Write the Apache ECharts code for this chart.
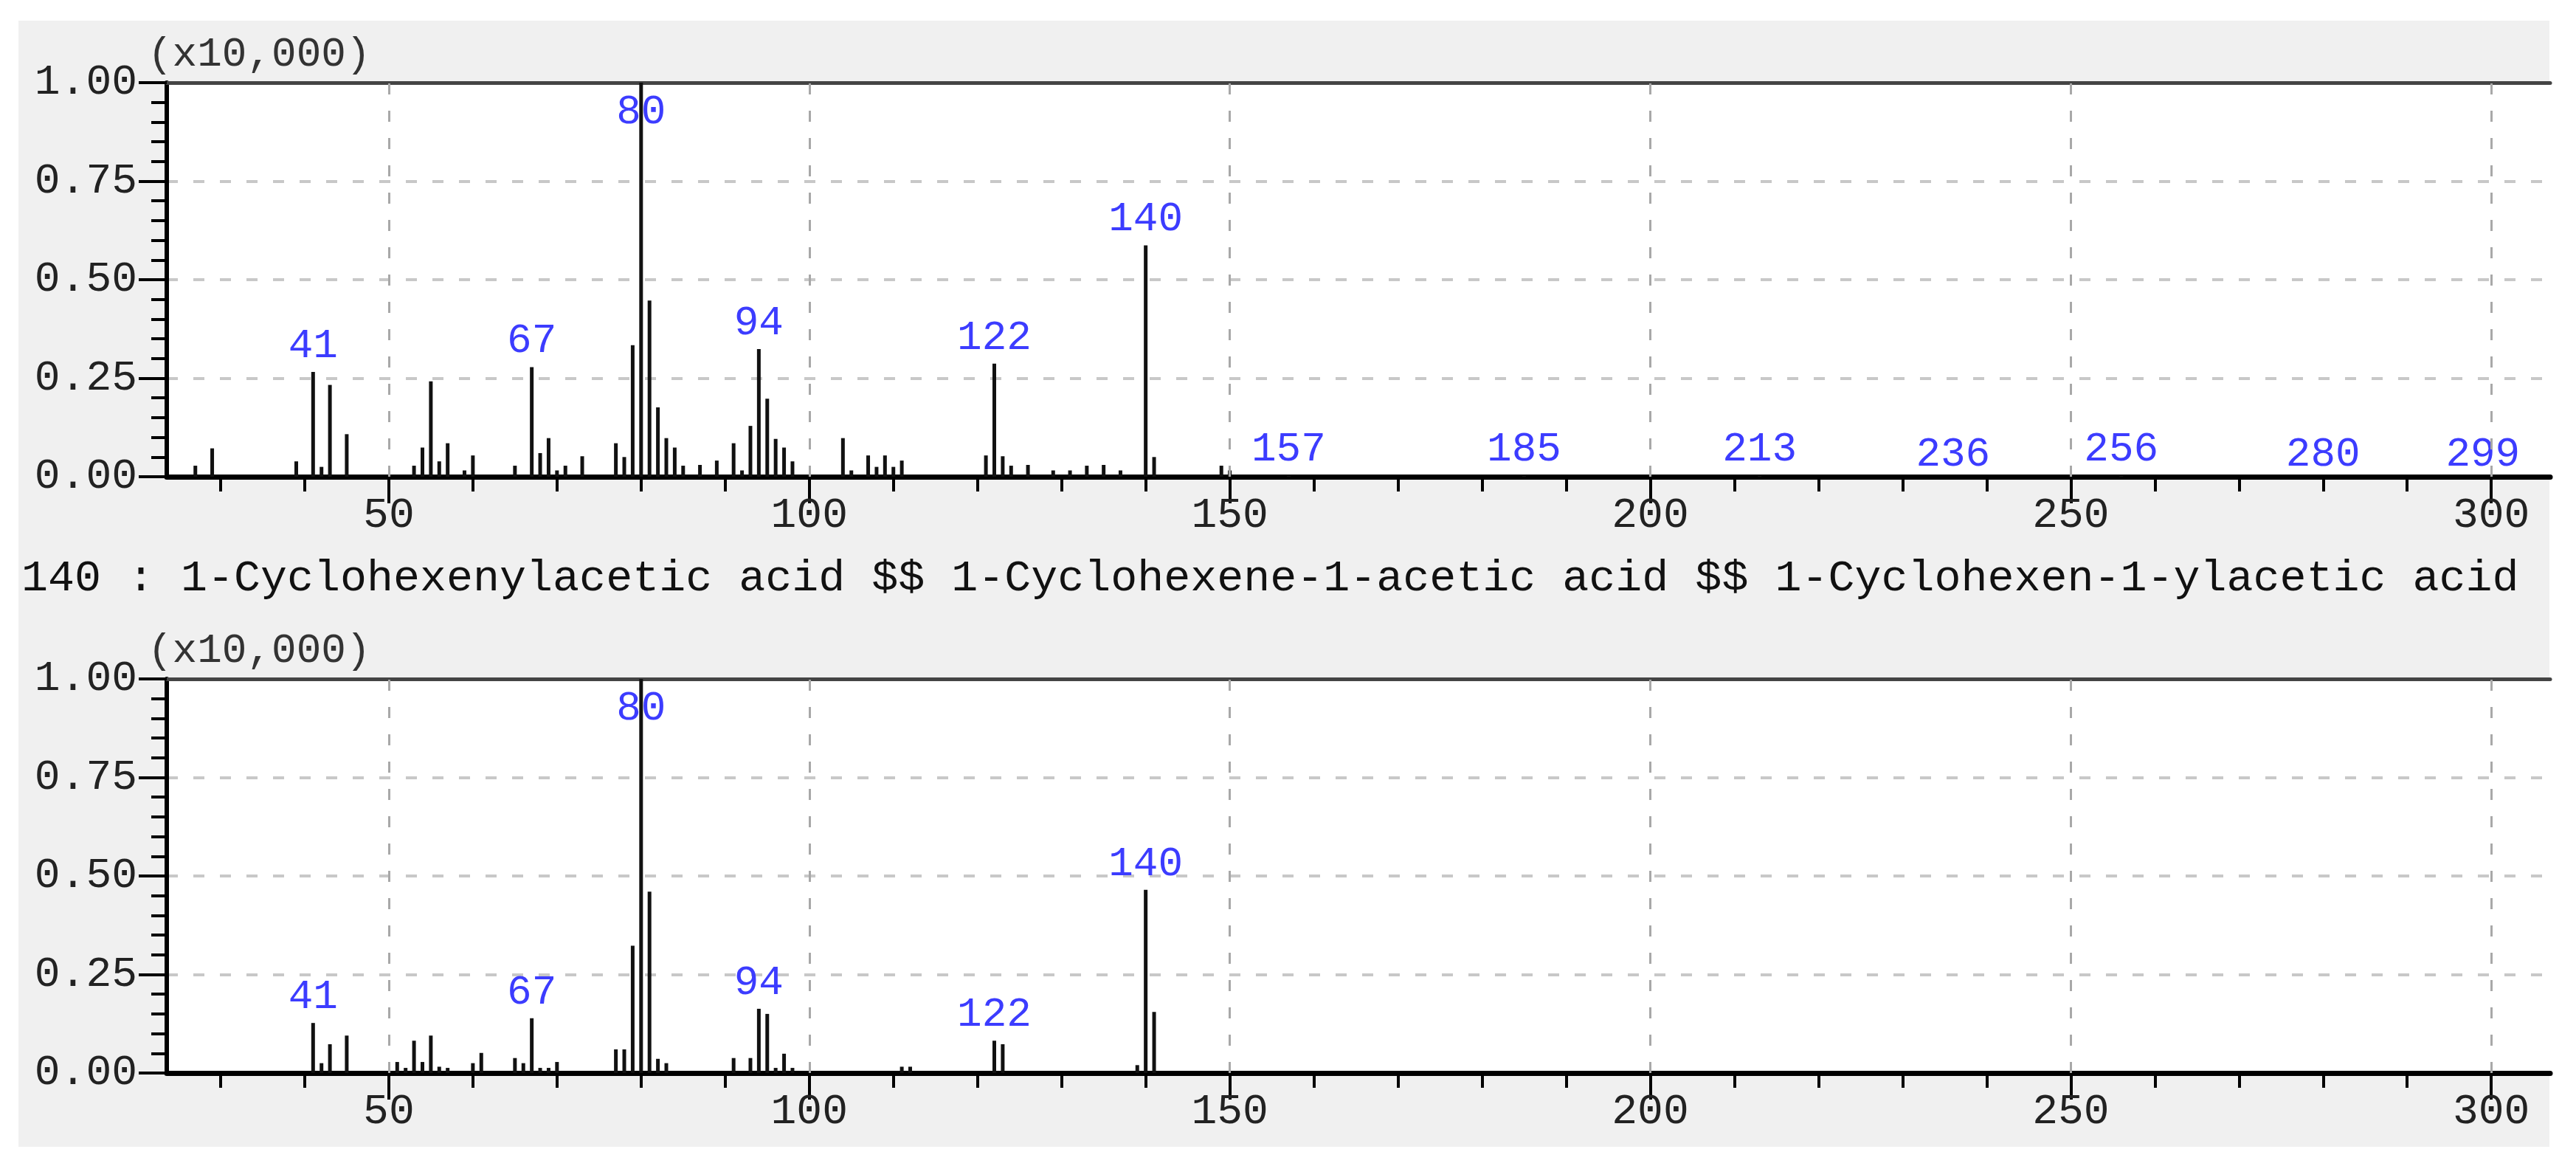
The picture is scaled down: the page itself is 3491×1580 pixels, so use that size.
<!DOCTYPE html>
<html lang="en">
<head>
    <meta charset="UTF-8">
    <title>Mass spectrum</title>
    <style>
        html, body { margin: 0; padding: 0; background: #fff; }
        /* grey panel behind both plots */
        #panel {
            position: absolute;
            left: 25px; top: 28px;
            width: 3430px; height: 1526px;
            background: #f0f0f0;
        }
        #app {
            position: absolute;
            left: 0; top: 0;
            width: 3491px; height: 1580px;
        }
    </style>
</head>
<body>
    <div id="panel"></div>
    <div id="app"></div>

    <script src="https://cdn.jsdelivr.net/npm/echarts@6/dist/echarts.min.js"></script>
    <script>
        // ---- data ----
        // upper spectrum (sample)
        var topMz = [27, 29, 39, 41, 42, 43, 45, 53, 54, 55, 56, 57, 59, 60, 65, 67, 68, 69, 70, 71, 73,
            77, 78, 79, 80, 81, 82, 83, 84, 85, 87, 89, 91, 92, 93, 94, 95, 96, 97, 98,
            104, 105, 107, 108, 109, 110, 111, 121, 122, 123, 124, 126, 129, 131, 133, 135, 137,
            140, 141, 149, 150, 157, 185, 213, 236, 256, 280, 299]
        var topAbund = [0.028, 0.072, 0.039, 0.266, 0.025, 0.233, 0.108, 0.028, 0.074, 0.242, 0.039, 0.085, 0.016, 0.054, 0.028, 0.278, 0.06, 0.098, 0.016, 0.028, 0.052,
            0.085, 0.05, 0.334, 1.0, 0.447, 0.176, 0.098, 0.074, 0.028, 0.03, 0.041, 0.085, 0.016, 0.129, 0.324, 0.198, 0.096, 0.074, 0.039,
            0.098, 0.016, 0.054, 0.025, 0.054, 0.025, 0.041, 0.054, 0.287, 0.052, 0.028, 0.03, 0.016, 0.016, 0.028, 0.03, 0.016,
            0.587, 0.05, 0.028, 0.016, 0.004, 0.004, 0.004, 0, 0.004, 0, 0]
        var topLabels = [41, 67, 80, 94, 122, 140, 157, 185, 213, 236, 256, 280, 299]

        // lower spectrum (library hit)
        var botMz = [41, 42, 43, 45, 51, 52, 53, 54, 55, 56, 57, 60, 61, 65, 66, 67, 68, 69, 70,
            77, 78, 79, 80, 81, 82, 83, 91, 93, 94, 95, 96, 97, 98, 111, 112, 122, 123, 139, 140, 141]
        var botAbund = [0.127, 0.025, 0.073, 0.095, 0.028, 0.013, 0.082, 0.028, 0.095, 0.016, 0.013, 0.025, 0.051, 0.038, 0.025, 0.139, 0.013, 0.013, 0.028,
            0.06, 0.06, 0.323, 1.0, 0.46, 0.036, 0.025, 0.038, 0.038, 0.163, 0.15, 0.013, 0.049, 0.013, 0.016, 0.016, 0.082, 0.073, 0.02, 0.465, 0.155]
        var botLabels = [41, 67, 80, 94, 122, 140]

        var xTicks = [50, 100, 150, 200, 250, 300]
        var xMinorTicks = [30, 40, 60, 70, 80, 90, 110, 120, 130, 140, 160, 170, 180, 190,
            210, 220, 230, 240, 260, 270, 280, 290]
        var xMin = 23.6, xMax = 307
        var scaleNote = '(x10,000)'
        var hitLine = '140 : 1-Cyclohexenylacetic acid $$ 1-Cyclohexene-1-acetic acid $$ 1-Cyclohexen-1-ylacetic acid'

        var FONT = 'Liberation Mono'
        var LABEL_COLOR = '#222'
        var PEAK_COLOR = '#3c3cff'

        var mychart = echarts.init(document.getElementById('app'), null, { renderer: 'canvas' })

        // turn the arrays into bar items, with the m/z number on top of the marked peaks
        function buildBars(mz, abund, labeled) {
            return mz.map(function (m, i) {
                var item = { value: [m, abund[i]] }
                if (labeled.indexOf(m) >= 0) {
                    var full = abund[i] > 0.9
                    item.label = {
                        show: true,
                        formatter: String(m),
                        position: full ? 'insideTop' : 'top',
                        distance: full ? 12 : (abund[i] === 0 ? 2 : 7)
                    }
                }
                return item
            })
        }

        function gridBox(top) {
            return {
                left: 226, right: 35, top: top, height: 534,
                show: true, backgroundColor: '#fff', borderWidth: 0,
                outerBoundsMode: 'none'
            }
        }

        function xAxes(gi) {
            return [
                // main axis: line, long ticks, labels
                {
                    type: 'value', gridIndex: gi, min: xMin, max: xMax, position: 'bottom',
                    axisLine: { show: true, onZero: false, lineStyle: { color: '#000', width: 7 } },
                    axisTick: { show: true, customValues: xTicks, length: 36, lineStyle: { color: '#000', width: 4 } },
                    axisLabel: { show: true, customValues: xTicks, margin: 24, fontSize: 58, fontFamily: FONT, color: LABEL_COLOR },
                    splitLine: { show: false }
                },
                // short ticks every 10
                {
                    type: 'value', gridIndex: gi, min: xMin, max: xMax, position: 'bottom',
                    axisLine: { show: false, onZero: false },
                    axisTick: { show: true, customValues: xMinorTicks, length: 20, lineStyle: { color: '#000', width: 4 } },
                    axisLabel: { show: false },
                    splitLine: { show: false }
                },
                // top frame
                {
                    type: 'value', gridIndex: gi, min: xMin, max: xMax, position: 'top',
                    axisLine: { show: true, onZero: false, lineStyle: { color: '#444', width: 5 } },
                    axisTick: { show: false },
                    axisLabel: { show: false },
                    splitLine: { show: false }
                }
            ]
        }

        function yAxis(gi) {
            return {
                type: 'value', gridIndex: gi, min: 0, max: 1, interval: 0.25,
                axisLine: { show: true, onZero: false, lineStyle: { color: '#000', width: 6 } },
                axisTick: { show: true, length: 38, lineStyle: { color: '#000', width: 4 } },
                minorTick: { show: true, splitNumber: 5, length: 21, lineStyle: { color: '#000', width: 4 } },
                axisLabel: {
                    margin: 40, fontSize: 58, fontFamily: FONT, color: LABEL_COLOR,
                    formatter: function (v) { return v.toFixed(2) }
                },
                splitLine: { show: true, lineStyle: { type: [15, 21], color: '#c8c8c8', width: 4 } }
            }
        }

        function spectrum(xi, yi, mz, abund, labeled) {
            return {
                type: 'bar',
                xAxisIndex: xi,
                yAxisIndex: yi,
                barWidth: 5,
                itemStyle: { color: '#111' },
                label: { show: false, fontSize: 56, fontFamily: FONT, color: PEAK_COLOR },
                data: buildBars(mz, abund, labeled),
                // dashed vertical grid at the labelled m/z values
                markLine: {
                    silent: true,
                    symbol: 'none',
                    label: { show: false },
                    lineStyle: { type: [15, 22], color: '#a8a8a8', width: 3 },
                    data: xTicks.map(function (v) { return { xAxis: v } })
                }
            }
        }

        var option = {
            animation: false,
            backgroundColor: 'transparent',
            title: {
                text: hitLine,
                left: 29, top: 754, padding: 0,
                textStyle: { fontFamily: FONT, fontSize: 60, fontWeight: 'normal', color: '#111' }
            },
            graphic: [
                { type: 'text', left: 200, top: 46, style: { text: scaleNote, font: '56px "Liberation Mono"', fill: '#333' } },
                { type: 'text', left: 200, top: 854, style: { text: scaleNote, font: '56px "Liberation Mono"', fill: '#333' } }
            ],
            grid: [gridBox(112), gridBox(920)],
            xAxis: xAxes(0).concat(xAxes(1)),
            yAxis: [yAxis(0), yAxis(1)],
            series: [
                spectrum(0, 0, topMz, topAbund, topLabels),
                spectrum(3, 1, botMz, botAbund, botLabels)
            ]
        }
        mychart.setOption(option)
    </script>
</body>
</html>
